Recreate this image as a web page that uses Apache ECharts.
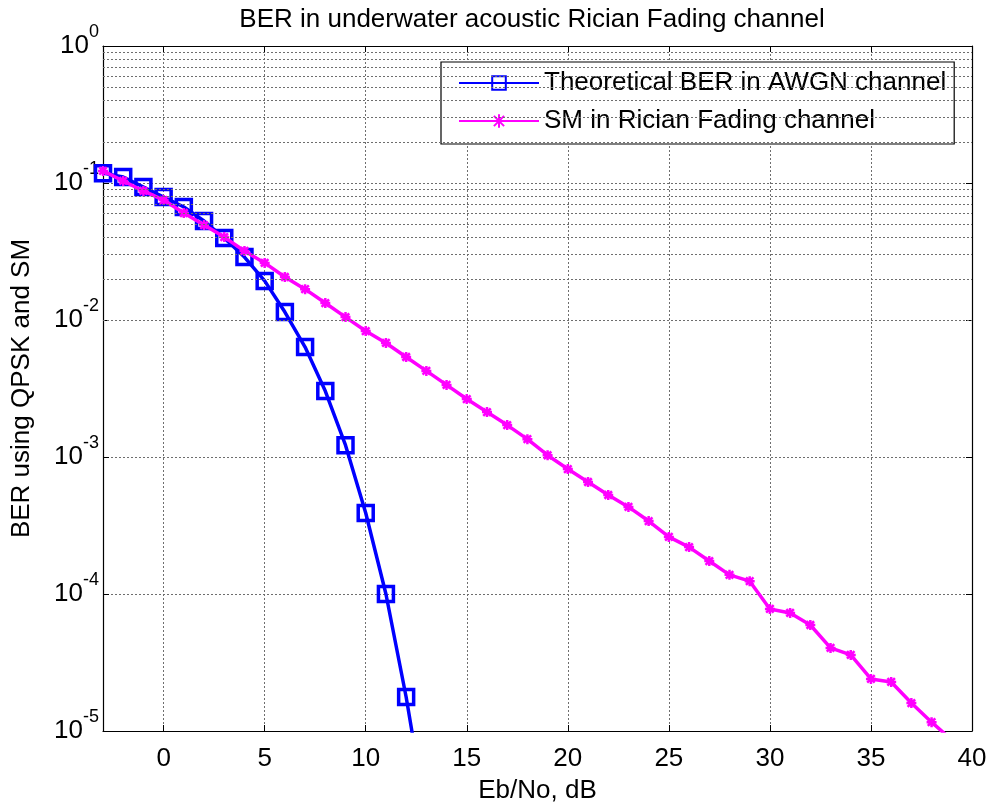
<!DOCTYPE html>
<html>
<head>
<meta charset="utf-8">
<title>BER in underwater acoustic Rician Fading channel</title>
<script src="https://cdn.jsdelivr.net/npm/echarts@6/dist/echarts.min.js"></script>
<style>
html, body { margin: 0; padding: 0; background: #fff; }
#main { width: 991px; height: 803px; }
</style>
</head>
<body>
<div id="main"></div>
<script>
"use strict";

var FONT = '"Liberation Sans", Arial, Helvetica, sans-serif';
var FONT_SIZE = 26;

// Eb/No (dB) and BER
var EBNO_AWGN = [-3, -2, -1, 0, 1, 2, 3, 4, 5, 6, 7, 8, 9, 10, 11, 12, 13];
var BER_AWGN = [0.118, 0.1106, 0.0935, 0.0791, 0.0668, 0.0528, 0.0397, 0.0288, 0.0193,
	0.01143, 0.00635, 0.00303, 0.00122, 0.00039, 0.0001, 1.77e-5, 2.36e-6];

var EBNO_SM = [-3, -2, -1, 0, 1, 2, 3, 4, 5, 6, 7, 8, 9, 10, 11, 12, 13, 14, 15, 16, 17, 18,
	19, 20, 21, 22, 23, 24, 25, 26, 27, 28, 29, 30, 31, 32, 33, 34, 35, 36, 37, 38, 39];
var BER_SM = [0.1225, 0.1035, 0.0875, 0.0751, 0.0604, 0.0493, 0.0403, 0.0319, 0.0261, 0.0206,
	0.0168, 0.0133, 0.0105, 0.00831, 0.0068, 0.00537, 0.00425, 0.00336, 0.00265, 0.00213,
	0.00171, 0.00135, 0.00103, 0.000817, 0.000657, 0.000528, 0.000432, 0.000341, 0.000261,
	0.00022, 0.000174, 0.000138, 0.000124, 7.78e-5, 7.27e-5, 5.94e-5, 4.04e-5, 3.59e-5,
	2.4e-5, 2.28e-5, 1.6e-5, 1.16e-5, 8.6e-6];

var X_MIN = -3;
var X_MAX = 40;
var Y_DECADES = [-5, -4, -3, -2, -1];
var MINOR_STEPS = [2, 3, 4, 5, 6, 7, 8, 9];

var SERIES_NAMES = ['Theoretical BER in AWGN channel', 'SM in Rician Fading channel'];

function zip(xs, ys) {
	var out = [];
	for (var i = 0; i < xs.length; i++) out.push([xs[i], ys[i]]);
	return out;
}

// dotted minor grid at 2..9 x 10^k
var minorGrid = [];
for (var d = 0; d < Y_DECADES.length; d++) {
	for (var m = 0; m < MINOR_STEPS.length; m++) {
		minorGrid.push({ yAxis: MINOR_STEPS[m] * Math.pow(10, Y_DECADES[d]) });
	}
}

var GRID_COLOR = '#6e6e6e';
var gridLine = { show: true, lineStyle: { color: GRID_COLOR, width: 1, type: [2, 2] } };
var axisBlack = { show: true, onZero: false, lineStyle: { color: '#000', width: 1.2 } };
var tickIn = { show: true, inside: true, length: 6, lineStyle: { color: '#000' } };

function expLabel(value) {
	var p = Math.round(Math.log(value) / Math.LN10);
	return '{b|10}{s|' + p + '}';
}

var chart = echarts.init(document.getElementById('main'), null, { renderer: 'canvas' });

chart.setOption({
	animation: false,
	backgroundColor: '#fff',
	textStyle: { fontFamily: FONT, color: '#000' },
	title: {
		text: 'BER in underwater acoustic Rician Fading channel',
		left: 527,
		textAlign: 'center',
		top: 2,
		textStyle: { fontFamily: FONT, fontSize: FONT_SIZE, fontWeight: 'normal', color: '#000' }
	},
	grid: { left: 103, right: 19, top: 46, bottom: 72, containLabel: false, outerBoundsMode: 'none' },
	legend: {
		data: SERIES_NAMES,
		orient: 'vertical',
		left: 441,
		top: 62,
		padding: [8, 8, 10, 17],
		itemGap: 12,
		itemWidth: 80,
		itemHeight: 17,
		backgroundColor: '#fff',
		borderColor: '#000',
		borderWidth: 1.2,
		borderRadius: 0,
		textStyle: { fontFamily: FONT, fontSize: FONT_SIZE, color: '#000' }
	},
	xAxis: [{
		type: 'value',
		min: X_MIN,
		max: X_MAX,
		splitNumber: 9,
		name: 'Eb/No, dB',
		nameLocation: 'middle',
		nameGap: 47,
		nameTextStyle: { fontFamily: FONT, fontSize: FONT_SIZE, color: '#000' },
		axisLine: axisBlack,
		axisTick: tickIn,
		axisLabel: {
			margin: 15, fontFamily: FONT, fontSize: FONT_SIZE, color: '#000',
			formatter: function(v) { return v === X_MIN ? '' : String(v); }
		},
		splitLine: gridLine
	}, {
		type: 'value',
		position: 'top',
		min: X_MIN,
		max: X_MAX,
		splitNumber: 9,
		axisLine: axisBlack,
		axisTick: tickIn,
		axisLabel: { show: false },
		splitLine: { show: false }
	}],
	yAxis: [{
		type: 'log',
		logBase: 10,
		min: 1e-5,
		max: 1,
		name: 'BER using QPSK and SM',
		nameLocation: 'middle',
		nameGap: 68,
		nameTextStyle: { fontFamily: FONT, fontSize: FONT_SIZE, color: '#000' },
		axisLine: axisBlack,
		axisTick: tickIn,
		axisLabel: {
			margin: 4,
			formatter: expLabel,
			rich: {
				b: { fontFamily: FONT, fontSize: FONT_SIZE, lineHeight: 46, color: '#000' },
				s: { fontFamily: FONT, fontSize: 18, lineHeight: 18, verticalAlign: 'top', color: '#000' }
			}
		},
		splitLine: gridLine
	}, {
		type: 'log',
		logBase: 10,
		min: 1e-5,
		max: 1,
		position: 'right',
		axisLine: axisBlack,
		axisTick: tickIn,
		axisLabel: { show: false },
		splitLine: { show: false }
	}],
	series: [{
		name: 'minor-grid',
		type: 'line',
		data: [],
		silent: true,
		markLine: {
			silent: true,
			symbol: ['none', 'none'],
			label: { show: false },
			lineStyle: { color: GRID_COLOR, width: 1, type: [2, 2] },
			data: minorGrid
		}
	}, {
		name: SERIES_NAMES[0],
		type: 'line',
		data: zip(EBNO_AWGN, BER_AWGN),
		symbol: 'rect',
		symbolSize: 15,
		lineStyle: { color: '#0000ff', width: 3.5 },
		itemStyle: { color: 'rgba(0,0,0,0)', borderColor: '#0000ff', borderWidth: 3.5 },
		clip: true,
		z: 3
	}, {
		name: SERIES_NAMES[1],
		type: 'line',
		data: zip(EBNO_SM, BER_SM),
		symbol: 'path://M0,4L8,4M4,0L4,8M1,1L7,7M7,1L1,7',
		symbolSize: 10,
		lineStyle: { color: '#ff00ff', width: 3.5 },
		itemStyle: { color: '#ff00ff', borderColor: '#ff00ff', borderWidth: 2.5 },
		clip: true,
		z: 4
	}]
});
</script>
</body>
</html>
